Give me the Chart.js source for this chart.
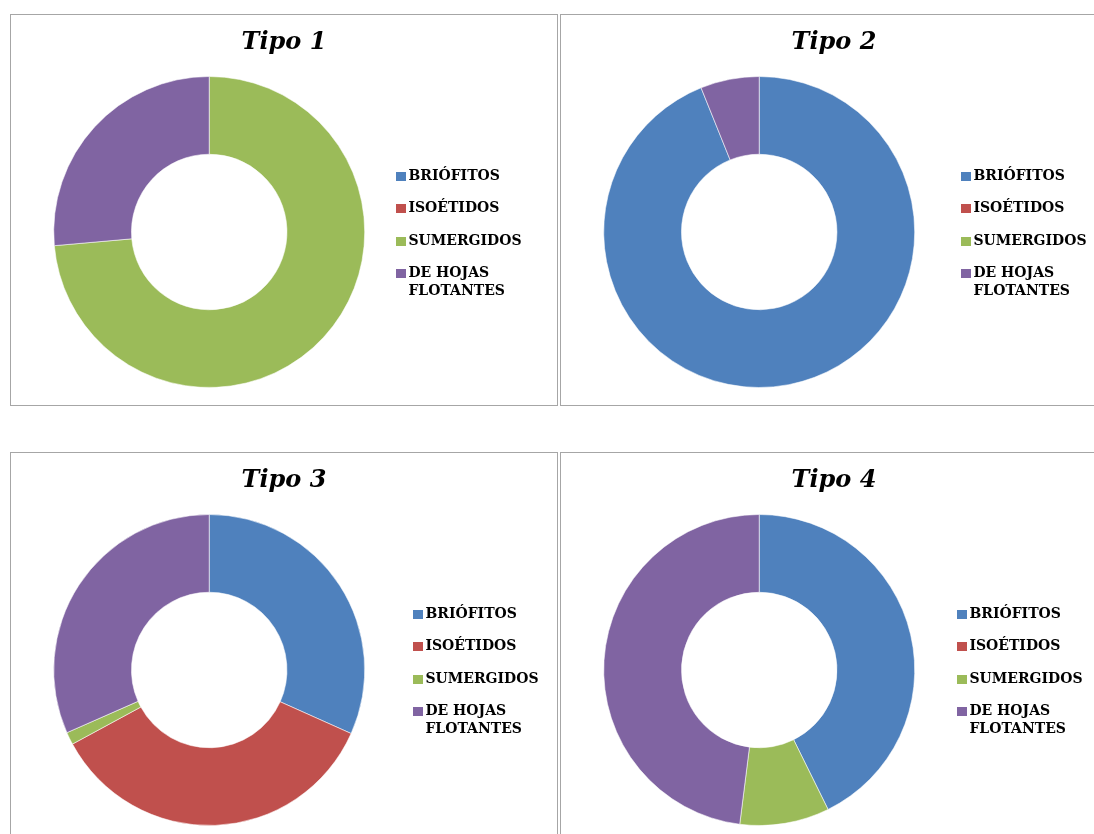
<!DOCTYPE html>
<html>
<head>
<meta charset="utf-8">
<script src="https://cdn.jsdelivr.net/npm/chart.js@4.4.1/dist/chart.umd.min.js"></script>
<style>
  body { margin: 0; background: #fff; width: 1094px; height: 834px; overflow: hidden; position: relative; }
  .panel { position: absolute; width: 546px; height: 390px; border: 1px solid #a6a6a6; background: #fff; }
  .panel canvas { display: block; }
</style>
</head>
<body>
<div class="panel" style="left:10px; top:14px;"><canvas id="c1" width="546" height="390"></canvas></div>
<div class="panel" style="left:560px; top:14px;"><canvas id="c2" width="546" height="390"></canvas></div>
<div class="panel" style="left:10px; top:452px;"><canvas id="c3" width="546" height="390"></canvas></div>
<div class="panel" style="left:560px; top:452px;"><canvas id="c4" width="546" height="390"></canvas></div>

<script>
// categories (last one wraps on two lines in the legend)
const categories = ['BRIÓFITOS', 'ISOÉTIDOS', 'SUMERGIDOS', ['DE HOJAS', 'FLOTANTES']];
const colors     = ['#4F81BD', '#C0504D', '#9BBB59', '#8064A2'];

// percentages
const tipo1 = [0, 0, 73.6, 26.4];
const tipo2 = [93.9, 0, 0, 6.1];
const tipo3 = [31.7, 35.4, 1.3, 31.6];
const tipo4 = [42.7, 0, 9.3, 48.0];

const titles = ['Tipo 1', 'Tipo 2', 'Tipo 3', 'Tipo 4'];
const series = [tipo1, tipo2, tipo3, tipo4];

// side padding per panel (same left/right keeps the title centred)
const sidePad = [25.5, 10.5, 8.5, 14.5];

Chart.defaults.font.family = "'DejaVu Serif', serif";
Chart.defaults.color = '#000';

// small square swatches, drawn close to the text like Excel does
function swatch(color) {
  const c = document.createElement('canvas');
  c.width = 10;
  c.height = 9;
  const g = c.getContext('2d');
  g.fillStyle = color;
  g.fillRect(0, 0, 10, 9);
  return c;
}
const swatches = colors.map(swatch);

function makeChart(i) {
  const ctx = document.getElementById('c' + (i + 1)).getContext('2d');
  return new Chart(ctx, {
    type: 'doughnut',
    data: {
      labels: categories,
      datasets: [{
        data: series[i],
        backgroundColor: colors,
        borderColor: 'rgba(255,255,255,0.55)',
        borderWidth: c => (c.raw > 0 ? 1 : 0),
      }],
    },
    options: {
      responsive: false,
      animation: false,
      cutout: '50%',
      layout: { padding: { left: sidePad[i], right: sidePad[i], top: 0, bottom: 17 } },
      plugins: {
        tooltip: { enabled: false },
        title: {
          display: true,
          text: titles[i],
          color: '#000',
          font: { size: 24, weight: 'bold', style: 'italic', lineHeight: 1.2 },
          padding: { top: 13.6, bottom: 18.6 },
        },
        legend: {
          position: 'right',
          fullSize: false,
          // empty title only nudges the items down a little
          title: { display: true, text: '', font: { size: 8, lineHeight: 1 }, padding: 0 },
          labels: {
            usePointStyle: true,
            pointStyleWidth: 1,
            boxHeight: 9,
            padding: 18.5,
            color: '#000',
            font: { size: 14, weight: 'bold', lineHeight: 1.3 },
            generateLabels: chart => chart.data.labels.map((text, k) => ({
              text,
              fillStyle: colors[k],
              strokeStyle: colors[k],
              lineWidth: 0,
              pointStyle: swatches[k],
              fontColor: '#000',
              hidden: false,
              index: k,
            })),
          },
        },
      },
    },
  });
}

series.forEach((_, i) => makeChart(i));
</script>
</body>
</html>
